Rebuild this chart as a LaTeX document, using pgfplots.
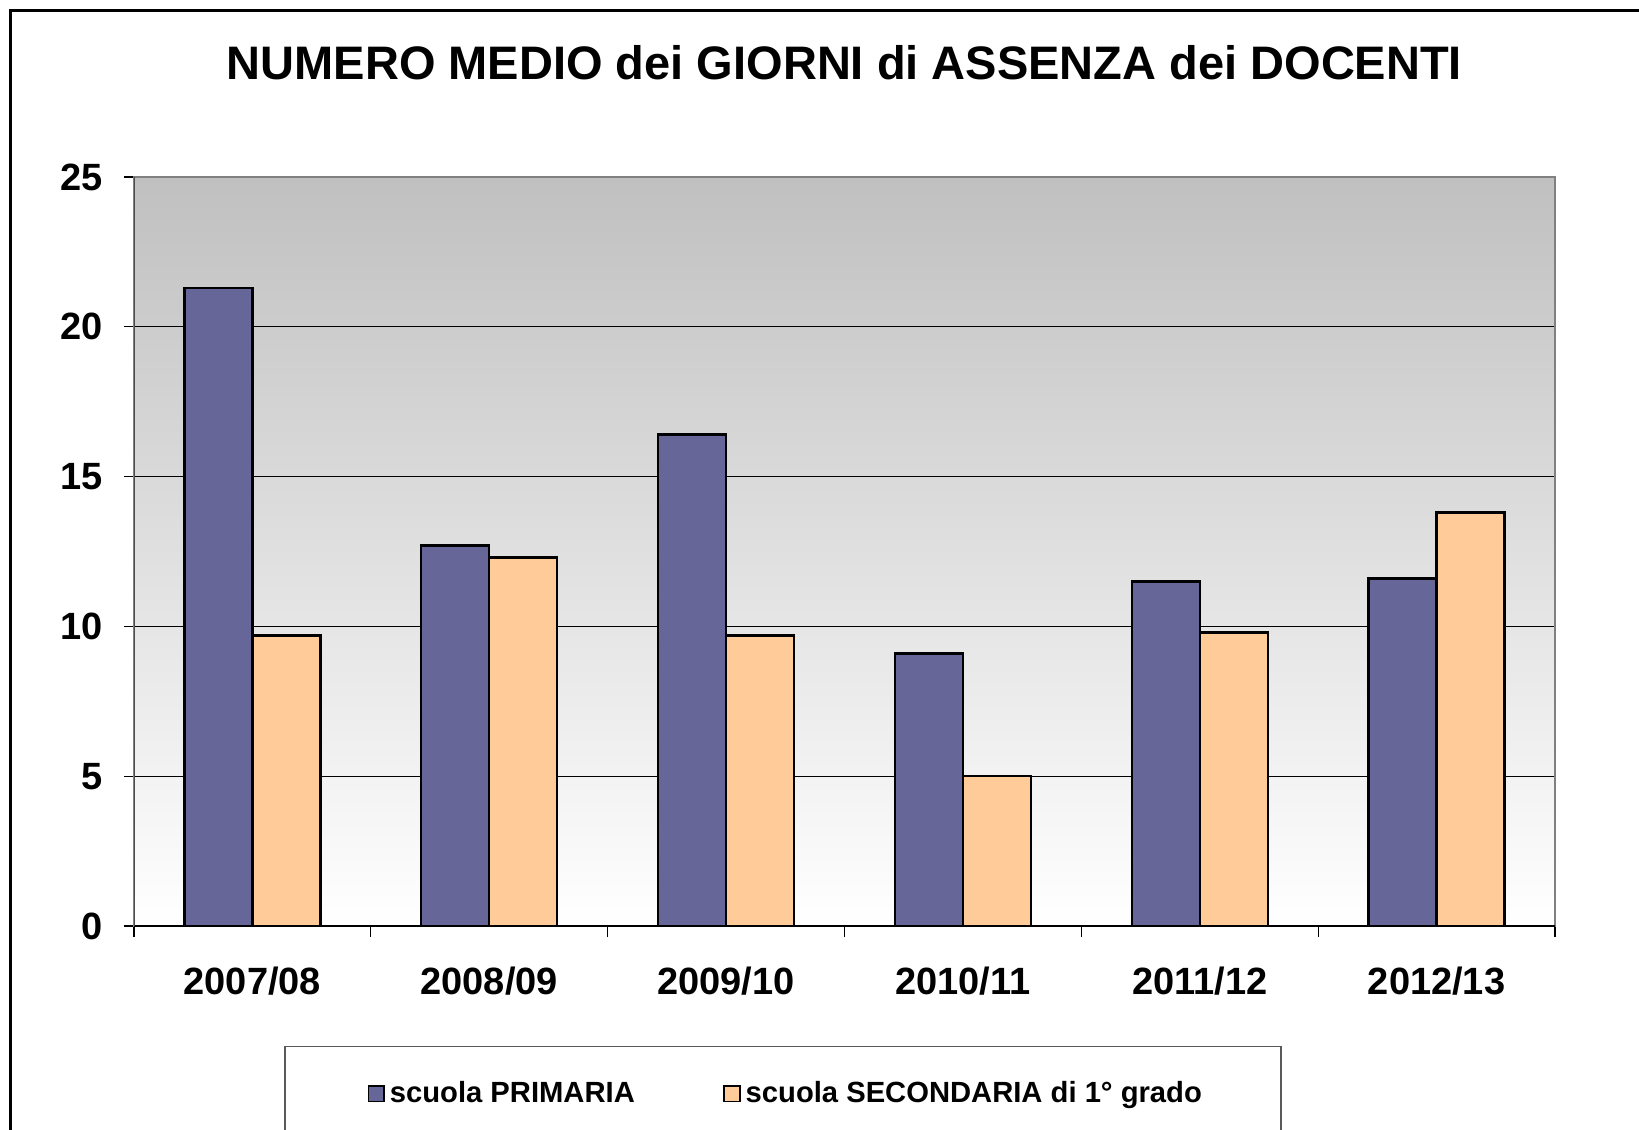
\documentclass[border=0pt]{standalone}
\usepackage{fontspec}
\setmainfont{Liberation Sans}
\usepackage{pgfplots}
\pgfplotsset{compat=1.18}
\definecolor{prim}{HTML}{666699}
\definecolor{sec}{HTML}{FFCC99}
\definecolor{bgtop}{HTML}{C0C0C0}
\definecolor{bgmid}{HTML}{DEDEDE}
\begin{document}
\begin{tikzpicture}
\path[use as bounding box] (0,0) rectangle (819.5pt,-565pt);
\clip (0,0) rectangle (819.5pt,-565pt);
\fill[white] (0,0) rectangle (819.5pt,-565pt);
\draw[black, line width=1.5pt] (5pt,-700pt) -- (5pt,-5pt) -- (1000pt,-5pt);
\begin{axis}[
  at={(67pt,-463pt)}, anchor=south west,
  scale only axis, width=710.5pt, height=374.5pt,
  ybar=0pt, bar width=34pt,
  xmin=-0.5, xmax=5.5, ymin=0, ymax=25,
  xtick={0,1,2,3,4,5},
  xticklabels={2007/08,2008/09,2009/10,2010/11,2011/12,2012/13},
  minor xtick={-0.5,0.5,1.5,2.5,3.5,4.5,5.5},
  ytick={0,5,10,15,20,25},
  tick pos=left,
  tick align=outside,
  major tick length=5pt,
  minor tick length=5.5pt,
  major x tick style={draw=none},
  minor x tick style={black, line width=0.6pt},
  y tick style={black, line width=0.6pt},
  ymajorgrids,
  grid style={black, line width=0.6pt},
  axis line style={draw=gray, line width=0.8pt},
  axis background/.style={shade, top color=bgtop, middle color=bgmid, bottom color=white},
  /pgf/number format/assume math mode=true,
  ticklabel style={font=\fontsize{19}{22}\selectfont\bfseries},
  xticklabel style={yshift=-12pt},
  yticklabel style={xshift=-7pt},
  title={NUMERO MEDIO dei GIORNI di ASSENZA dei DOCENTI},
  title style={font=\fontsize{23.5}{27}\selectfont\bfseries, at={(0.5,1)}, anchor=center, yshift=51pt},
  legend style={at={(0.4568,-0.160)}, anchor=north, draw=gray!70!black, line width=0.8pt,
    inner xsep=37pt, inner ysep=15pt,
    font=\fontsize{14.6}{18}\selectfont\bfseries,
    nodes={inner sep=2.5pt},
    /tikz/every even column/.append style={column sep=37.6pt}},
  legend columns=2,
  legend image code/.code={\path (0pt,0pt); \draw[#1, line width=0.8pt, draw=black] (4pt,-3.9pt) rectangle (11.8pt,3.9pt);},
]
\addplot[fill=prim, draw=black, line width=1.2pt] coordinates {(0,21.3) (1,12.7) (2,16.4) (3,9.1) (4,11.5) (5,11.6)};
\addplot[fill=sec, draw=black, line width=1.2pt] coordinates {(0,9.7) (1,12.3) (2,9.7) (3,5.0) (4,9.8) (5,13.8)};
\legend{scuola PRIMARIA, scuola SECONDARIA di 1° grado}
\draw[black, line width=0.8pt] (rel axis cs:0,0) -- (rel axis cs:1,0);
\draw[gray!60!black, line width=0.6pt] (rel axis cs:0,0) -- (rel axis cs:0,1);
\end{axis}
\end{tikzpicture}
\end{document}
